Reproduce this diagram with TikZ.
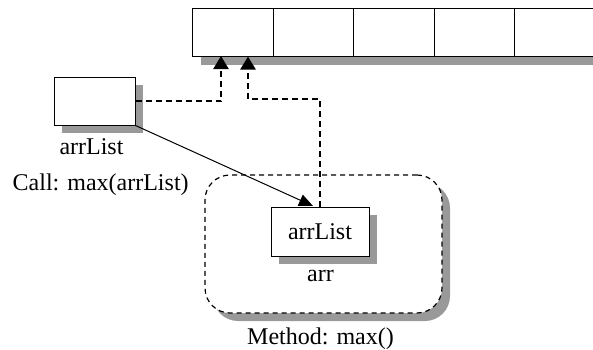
\documentclass[tikz,border=0pt]{standalone}
\usepackage{fontspec}
\setmainfont{Liberation Serif}
\usetikzlibrary{arrows.meta,calc}
\definecolor{shadowgray}{gray}{0.6}
\tikzset{
  box/.style={draw=black, line width=1pt, fill=white, inner sep=0pt, minimum height=48pt},
  cell/.style={box, minimum width=80.5pt},
  dconn/.style={line width=2.4pt, dash pattern=on 6pt off 4pt, -{Triangle[length=13pt,width=15pt]}},
  sconn/.style={line width=1pt, -{Triangle[length=14pt,width=12pt]}},
  lbl/.style={font=\fontsize{24}{28}\selectfont, inner sep=0pt},
  drop/.style={fill=shadowgray, draw=none},
}
\begin{document}
\begin{tikzpicture}[x=1pt,y=-1pt]
\useasboundingbox (0,0) rectangle (593,349);
\clip (0,0) rectangle (593,349);

% array of cells along the top, with its drop shadow
\path[drop] (201,17) rectangle (610,65);
\node[cell] (c1) at (233,32) {};
\node[cell] (c2) at (313.5,32) {};
\node[cell] (c3) at (394,32) {};
\node[cell] (c4) at (474.5,32) {};
\node[cell] (c5) at (555,32) {};

% variable box on the left
\path[drop] (62,85) rectangle (143,133);
\node[box, minimum width=81pt] (src) at (94.5,101) {};
\node[lbl, anchor=base] (srcname) at (91.5,154) {arrList};
\node[lbl, anchor=base west] (call) at (12.5,190) {Call: max(arrList)};

% method frame
\path[drop, rounded corners=25pt] (213,183) rectangle (450,321);
\node[draw=black, fill=white, line width=1.2pt, dash pattern=on 5pt off 4pt,
      rounded corners=25pt, minimum width=237pt, minimum height=138pt, inner sep=0pt]
      (method) at (323.5,244) {};
\node[lbl, anchor=base] (methodname) at (320.5,344) {Method: max()};

% parameter box inside the method
\path[drop] (279,215) rectangle (377,264);
\node[box, minimum width=98pt, minimum height=49pt, lbl] (inner) at (320,231.5) {arrList};
\node[lbl, anchor=base] (innername) at (320.5,281) {arr};

% connectors
\coordinate (j1) at (248,99);
\coordinate (a1) at (221,56);
\coordinate (tip) at (313,206);
\draw[dconn] (src.east) -| (a1);
\draw[dconn] (inner.north) |- (j1) -- (j1 |- c1.south);
\draw[sconn] (src.south east) -- (tip);
\end{tikzpicture}
\end{document}
